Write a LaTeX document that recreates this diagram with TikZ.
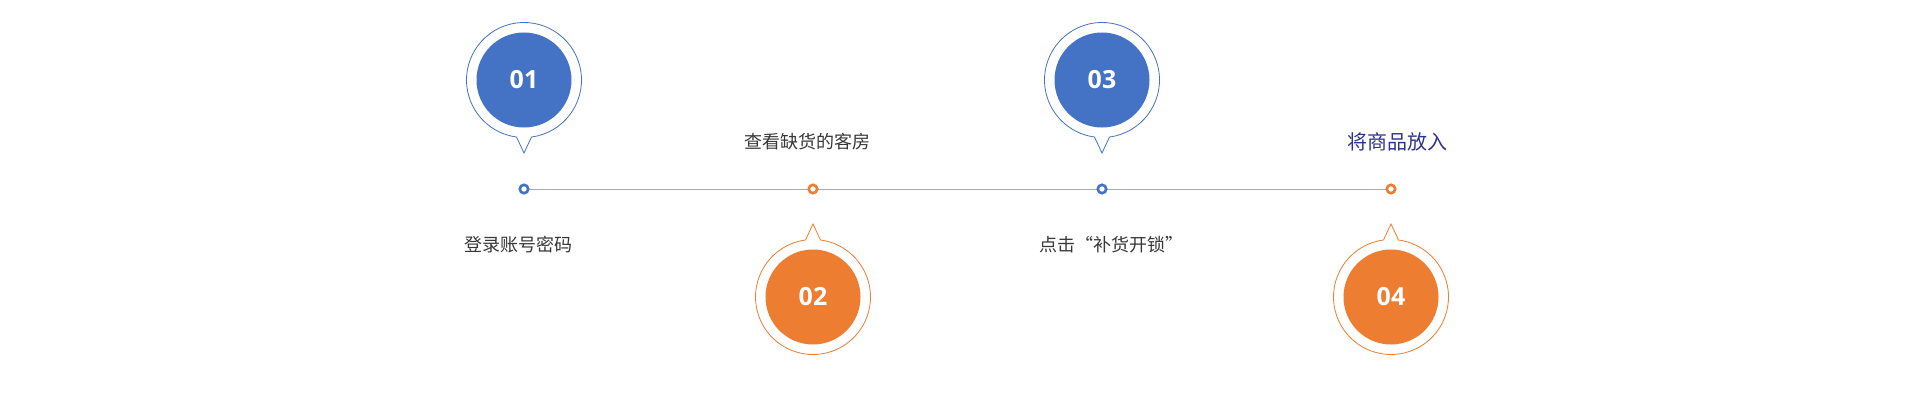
\documentclass[tikz,border=0pt]{standalone}
\usepackage{fontspec}
\setmainfont{Open Sans}
\newfontfamily\cjk{Noto Sans CJK SC}
\definecolor{stepblue}{RGB}{68,114,196}
\definecolor{steporange}{RGB}{237,125,49}
\definecolor{linegray}{RGB}{168,170,185}
\definecolor{textgray}{RGB}{55,55,55}
\definecolor{navy}{RGB}{46,52,140}

\begin{document}
\begin{tikzpicture}[x=1pt,y=1pt]
  \useasboundingbox (0,0) rectangle (1920,400);
  \coordinate (D1) at (524,211);
  \coordinate (D2) at (813,211);
  \coordinate (D3) at (1102,211);
  \coordinate (D4) at (1391,211);

  \draw[linegray, line width=1pt] (D1) -- (D4);
  \foreach \p/\c in {D1/stepblue, D2/steporange, D3/stepblue, D4/steporange}
    \draw[\c, line width=2.6pt, fill=white] (\p) circle (4.2);

  \foreach \x/\y/\r/\c/\n in {524/320/0/stepblue/01, 813/103/180/steporange/02,
      1102/320/0/stepblue/03, 1391/103/180/steporange/04}{
    \begin{scope}[shift={(\x,\y)}, rotate=\r]
      \draw[\c, line width=0.8pt, fill=white] (-82.5:57.5)
        arc[start angle=-82.5, end angle=262.5, radius=57.5] -- (0,-73) -- cycle;
    \end{scope}
    \node[circle, fill=\c, minimum size=95, inner sep=0, text=white,
      font=\bfseries\fontsize{25}{25}\selectfont] (B\n) at (\x,\y) {\n};
  }

  \node[text=textgray, font=\cjk\fontsize{18}{18}\selectfont] (T1) at (518,155) {登录账号密码};
  \node[text=textgray, font=\cjk\fontsize{18}{18}\selectfont] (T2) at (807,258) {查看缺货的客房};
  \node[text=textgray, font=\cjk\fontsize{18}{18}\selectfont] (T3) at (1111,155) {点击“补货开锁”};
  \node[text=navy, font=\cjk\fontsize{20}{20}\selectfont] (T4) at (1397,258) {将商品放入};
\end{tikzpicture}
\end{document}
